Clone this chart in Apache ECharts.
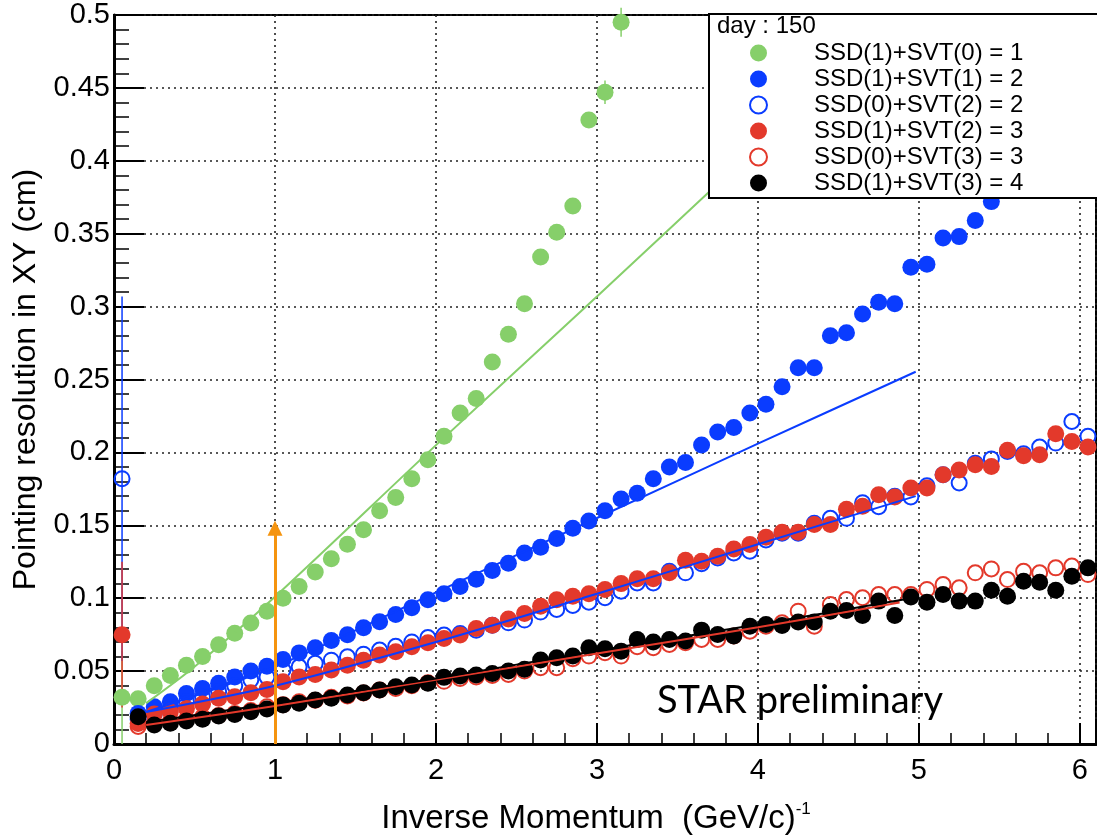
<!DOCTYPE html>
<html>
<head>
<meta charset="utf-8">
<script src="https://cdn.jsdelivr.net/npm/echarts@6/dist/echarts.min.js"></script>
<style>html,body{margin:0;padding:0;background:#fff}#chart{width:1097px;height:835px}</style>
</head>
<body>
<div id="chart"></div>
<script>
// ---- data ----
const binX = [0.05,0.15,0.25,0.35,0.45,0.55,0.65,0.75,0.85,0.95,
  1.05,1.15,1.25,1.35,1.45,1.55,1.65,1.75,1.85,1.95,
  2.05,2.15,2.25,2.35,2.45,2.55,2.65,2.75,2.85,2.95,
  3.05,3.15,3.25,3.35,3.45,3.55,3.65,3.75,3.85,3.95,
  4.05,4.15,4.25,4.35,4.45,4.55,4.65,4.75,4.85,4.95,
  5.05,5.15,5.25,5.35,5.45,5.55,5.65,5.75,5.85,5.95,6.05];

const seriesNames = ['SSD(1)+SVT(0) = 1','SSD(1)+SVT(1) = 2','SSD(0)+SVT(2) = 2','SSD(1)+SVT(2) = 3','SSD(0)+SVT(3) = 3','SSD(1)+SVT(3) = 4'];

const greenVals = [0.032,0.031,0.040,0.047,0.054,0.060,0.068,0.076,0.083,0.091,
  0.100,0.108,0.118,0.127,0.137,0.147,0.160,0.169,0.182,0.195,
  0.211,0.227,0.237,0.262,0.281,0.302,0.334,0.351,0.369,0.428,
  0.447,0.495];

const blueVals = [null,0.021,0.0256,0.029,0.0347,0.038,0.0416,0.046,0.050,0.0534,
  0.058,0.0625,0.066,0.071,0.075,0.0797,0.0838,0.0888,0.0934,0.099,
  0.103,0.108,0.113,0.119,0.124,0.131,0.135,0.141,0.148,0.153,
  0.160,0.168,0.172,0.182,0.190,0.193,0.205,0.214,0.217,0.227,
  0.233,0.245,0.258,0.258,0.280,0.282,0.295,0.303,0.302,0.327,
  0.329,0.347,0.348,0.359,0.372];

const blueOpenVals = [0.182,0.017,0.021,0.025,0.029,0.032,0.036,0.040,0.044,0.046,
  0.0507,0.053,0.0553,0.0575,0.0598,0.0616,0.0644,0.067,0.070,0.073,
  0.0747,0.0758,0.078,0.0815,0.0831,0.085,0.0905,0.0923,0.095,0.0973,
  0.1003,0.1048,0.1105,0.1105,0.1185,0.1174,0.1237,0.1276,0.131,0.1322,
  0.140,0.1446,0.1446,0.1514,0.1548,0.1548,0.1655,0.1628,0.170,0.1694,
  0.1772,0.1847,0.179,0.1925,0.1955,0.2007,0.1991,0.2037,0.2064,0.2212,0.211];

const redVals = [0.075,0.014,0.0205,0.022,0.0244,0.0274,0.0313,0.0324,0.0352,0.0374,
  0.0427,0.046,0.0477,0.0507,0.054,0.0575,0.061,0.0632,0.0667,0.0694,
  0.0724,0.0747,0.0792,0.0815,0.0858,0.0895,0.0945,0.099,0.1014,0.103,
  0.106,0.110,0.1133,0.1133,0.1174,0.126,0.1253,0.1288,0.1338,0.1368,
  0.1418,0.1452,0.1452,0.1505,0.1505,0.161,0.163,0.171,0.1694,0.1756,
  0.1756,0.1847,0.188,0.1916,0.1904,0.2014,0.1977,0.1984,0.2128,0.2075,0.2037];

const redOpenVals = [null,0.012,0.0145,0.0155,0.017,0.0185,0.0195,0.021,0.023,0.0255,
  0.027,0.029,0.030,0.032,0.033,0.035,0.037,0.038,0.040,0.042,
  0.043,0.045,0.046,0.047,0.0477,0.050,0.0523,0.0523,0.0585,0.0603,
  0.0626,0.0603,0.0667,0.066,0.0683,0.0694,0.0717,0.0717,0.074,0.0774,
  0.0808,0.0831,0.0911,0.0808,0.0957,0.0991,0.1003,0.1025,0.1025,0.1025,
  0.106,0.1094,0.1071,0.1174,0.1201,0.1128,0.1185,0.1174,0.1208,0.122,0.1162];

const blackVals = [null,0.0187,0.013,0.0142,0.0158,0.0169,0.0192,0.0203,0.0221,0.024,
  0.0267,0.0279,0.0301,0.0313,0.0336,0.0352,0.037,0.0393,0.0404,0.0416,
  0.0457,0.0466,0.0473,0.0484,0.050,0.0512,0.0576,0.0591,0.0603,0.066,
  0.0653,0.0637,0.0717,0.0699,0.0717,0.0706,0.0781,0.0751,0.074,0.0808,
  0.082,0.0813,0.0836,0.0836,0.0911,0.0916,0.0881,0.098,0.0881,0.1009,
  0.0973,0.1025,0.098,0.098,0.1055,0.1014,0.1116,0.111,0.1055,0.115,0.1208];

// error bars: [x, low, high]
const errGreen = [[0.05,0.0,0.064],[2.95,0.423,0.433],[3.05,0.439,0.455],[3.15,0.485,0.505]];
const errBlueOpen = [[0.05,0.057,0.307]];
const errRed = [[0.05,0.025,0.125]];

// fit curves: [x, y]
const fitGreen = [[0.2,0.028],[0.5,0.053],[1,0.101],[2,0.205],[3,0.307],[4,0.41]];
const fitBlue = [[0.2,0.022],[1,0.053],[2,0.104],[3,0.155],[4,0.206],[4.98,0.2553]];
const fitBlueOpen = [[0.2,0.022],[1,0.040],[2,0.070],[3,0.103],[4,0.137],[4.98,0.170]];
const fitRedOpen = [[0.2,0.013],[1,0.026],[2,0.044],[3,0.062],[4,0.080],[4.88,0.097]];
const fitBlack = [[0.2,0.015],[1,0.028],[2,0.045],[3,0.064],[4,0.082],[4.95,0.100]];

const arrowX = 1;
const arrowY = [0, 0.148];

const xTicks = [0,1,2,3,4,5,6];

// ---- chart ----
const FONT = 'Liberation Sans, Arial, Helvetica, sans-serif';
const C = {green:'#86cf6a', blue:'#0a3cff', red:'#e3392b', black:'#000000', orange:'#f5940f'};

function pts(vals){ return binX.map((x,i)=>[x, vals[i]]).filter(d=>d[1]!=null && d[1]!==undefined); }

function filled(name, vals, color){
  return {type:'scatter', name, data:pts(vals), symbol:'circle', symbolSize:17,
    itemStyle:{color, opacity:1}, z:2, silent:true};
}
function open(name, vals, color){
  return {type:'scatter', name, data:pts(vals), symbol:'circle', symbolSize:15,
    itemStyle:{color:'rgba(255,255,255,0)', borderColor:color, borderWidth:2, opacity:1}, z:2, silent:true};
}
function errs(data, color){
  return {type:'custom', data, z:2, silent:true,
    renderItem:(params, api)=>{
      const a = api.coord([api.value(0), api.value(1)]);
      const b = api.coord([api.value(0), api.value(2)]);
      return {type:'line', shape:{x1:a[0],y1:a[1],x2:b[0],y2:b[1]}, style:{stroke:color, lineWidth:1.5}};
    }};
}
function fit(data, color){
  return {type:'line', data, showSymbol:false, symbol:'none', smooth:0.3, z:3, silent:true,
    lineStyle:{color, width:2}};
}

const chart = echarts.init(document.getElementById('chart'), null, {renderer:'canvas'});
chart.setOption({
  animation:false,
  backgroundColor:'#fff',
  grid:{left:114, right:1, top:15, bottom:91, outerBoundsMode:'none', containLabel:false,
        show:true, borderColor:'#000', borderWidth:2, backgroundColor:'rgba(0,0,0,0)'},
  xAxis:{
    type:'value', min:0, max:6.1, interval:1,
    name:'{a|Inverse Momentum  (GeV/c)}{s|-1}', nameLocation:'middle', nameGap:57,
    nameTextStyle:{padding:[0,18,0,0], rich:{a:{fontFamily:FONT, fontSize:33, color:'#000', lineHeight:36},
                        s:{fontFamily:FONT, fontSize:17, color:'#000', verticalAlign:'top', lineHeight:36}}},
    axisLine:{lineStyle:{color:'#000', width:3}},
    axisTick:{inside:true, length:21, lineStyle:{color:'#000', width:2}},
    minorTick:{show:true, splitNumber:5, length:11, lineStyle:{color:'#000', width:1.5}},
    splitLine:{show:true, lineStyle:{type:[2,4], color:'#222', width:1.6}},
    axisLabel:{fontFamily:FONT, fontSize:29, color:'#000', margin:12,
      formatter:v=> xTicks.indexOf(Math.round(v*1000)/1000) >= 0 ? String(Math.round(v)) : ''}
  },
  yAxis:{
    type:'value', min:0, max:0.5, interval:0.05,
    name:'Pointing resolution in XY (cm)', nameLocation:'middle', nameGap:62,
    nameTextStyle:{fontFamily:FONT, fontSize:32, color:'#000'},
    axisLine:{lineStyle:{color:'#000', width:3}},
    axisTick:{inside:true, length:30, lineStyle:{color:'#000', width:2}},
    minorTick:{show:true, splitNumber:5, length:15, lineStyle:{color:'#000', width:1.5}},
    splitLine:{show:true, lineStyle:{type:[2,4], color:'#222', width:1.6}},
    axisLabel:{fontFamily:FONT, fontSize:29, color:'#000', margin:4,
      formatter:v=> String(Math.round(v*100)/100)}
  },
  legend:{
    data:seriesNames, orient:'vertical', left:749, top:40, padding:0,
    itemWidth:17, itemHeight:17, itemGap:0, selectedMode:false, icon:'circle',
    formatter: n => '{g|}' + n,
    textStyle:{fontFamily:FONT, fontSize:24, color:'#000', lineHeight:26,
      rich:{g:{width:42}}}, z:20
  },
  graphic:[
    {type:'rect', left:708, top:13, z:15, shape:{width:400, height:184},
     style:{fill:'#fff', stroke:'#000', lineWidth:2}},
    {type:'text', left:717, top:14, z:16,
     style:{text:'day : 150', font:'24px ' + FONT, fill:'#000'}},
    {type:'text', x:800, y:701, z:16,
     style:{text:'STAR preliminary', font:'38px Lato, "Open Sans", sans-serif', fill:'#000', textAlign:'center', textVerticalAlign:'middle'}}
  ],
  series:[
    errs(errGreen, C.green),
    filled(seriesNames[0], greenVals, C.green),
    filled(seriesNames[1], blueVals, C.blue),
    errs(errBlueOpen, C.blue),
    open(seriesNames[2], blueOpenVals, C.blue),
    errs(errRed, C.red),
    filled(seriesNames[3], redVals, C.red),
    open(seriesNames[4], redOpenVals, C.red),
    filled(seriesNames[5], blackVals, C.black),
    fit(fitGreen, C.green),
    fit(fitBlue, C.blue),
    fit(fitBlueOpen, C.blue),
    fit(fitRedOpen, C.red),
    fit(fitBlack, C.black),
    {type:'line', data:[], z:5, silent:true,
     markLine:{silent:true, animation:false, symbol:['none','triangle'], symbolSize:15,
       label:{show:false}, lineStyle:{color:C.orange, width:3, type:'solid'},
       itemStyle:{color:C.orange},
       data:[[{coord:[arrowX, arrowY[0]]},{coord:[arrowX, arrowY[1]]}]]}}
  ]
});
</script>
</body>
</html>
